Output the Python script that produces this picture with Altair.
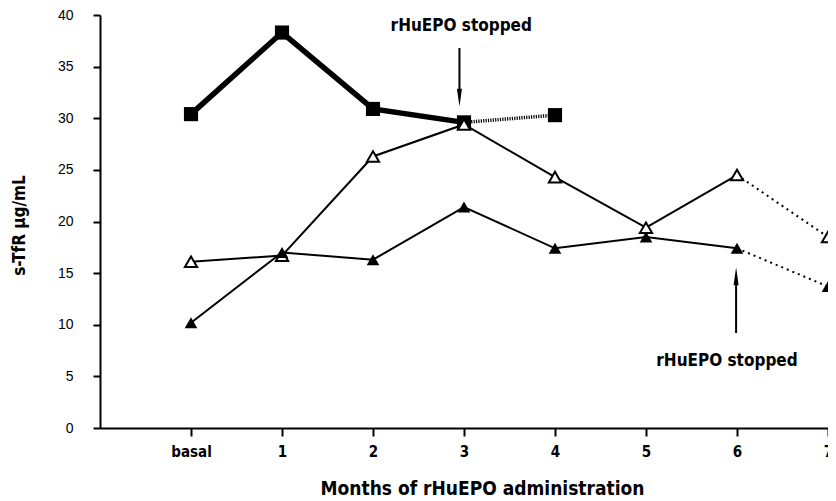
import altair as alt
import pandas as pd

# ---------------- data ----------------
tick_values = [0, 1, 2, 3, 4, 5, 6, 7]
tick_labels = ["basal", "1", "2", "3", "4", "5", "6", "7"]

sq_x = [0, 1, 2, 3, 4]
sq_y = [30.4, 38.3, 30.9, 29.6, 30.3]          # filled squares (thick line)
sq_last_solid = 3

tri_x = [0, 1, 2, 3, 4, 5, 6, 7]
open_y = [16.1, 16.7, 26.3, 29.4, 24.3, 19.4, 24.5, 18.5]   # open triangles
fill_y = [10.2, 17.0, 16.3, 21.4, 17.4, 18.5, 17.4, 13.7]   # filled triangles
tri_last_solid = 6

ann_x = [2.97, 5.89]
ann_y = [38.9, 6.5]
ann_text = ["rHuEPO stopped", "rHuEPO stopped"]

arrow_x = [2.95, 5.99]
arrow_from = [36.8, 9.2]
arrow_to = [32.0, 14.7]

COND = "'DejaVu Sans Condensed', 'Liberation Sans Narrow', sans-serif"

# ---------------- tables ----------------
def seg(xs, ys, a, b):
    return pd.DataFrame({"x": xs[a:b + 1], "y": ys[a:b + 1]})

sq_solid = seg(sq_x, sq_y, 0, sq_last_solid)
sq_dot = seg(sq_x, sq_y, sq_last_solid, len(sq_x) - 1)
op_solid = seg(tri_x, open_y, 0, tri_last_solid)
op_dot = seg(tri_x, open_y, tri_last_solid, len(tri_x) - 1)
fi_solid = seg(tri_x, fill_y, 0, tri_last_solid)
fi_dot = seg(tri_x, fill_y, tri_last_solid, len(tri_x) - 1)
sq_pts = pd.DataFrame({"x": sq_x, "y": sq_y})
op_pts = pd.DataFrame({"x": tri_x, "y": open_y})
fi_pts = pd.DataFrame({"x": tri_x, "y": fill_y})
ann = pd.DataFrame({"x": ann_x, "y": ann_y, "t": ann_text})
arr = pd.DataFrame({"x": arrow_x, "y": arrow_from, "y2": arrow_to,
                    "shape": ["M-0.28,-1L0.28,-1L0,1Z", "M-0.28,1L0.28,1L0,-1Z"]})

label_expr = "[" + ",".join("'%s'" % s for s in tick_labels) + "][datum.value]"

axis_style = dict(domainColor="black", domainWidth=2, tickColor="black", tickWidth=2,
                  domainOpacity=1, tickOpacity=1, grid=False)

xenc = alt.X("x:Q", scale=alt.Scale(domain=[-1, 7], nice=False, zero=False),
             axis=alt.Axis(values=tick_values, labelExpr=label_expr,
                           title="Months of rHuEPO administration",
                           labelFont=COND, labelFontWeight="bold", labelFontSize=15,
                           labelPadding=8, labelColor="black",
                           titleFont=COND, titleFontWeight="bold", titleFontSize=19,
                           titleX=382, titleY=66, titleBaseline="alphabetic",
                           titleColor="black", tickSize=8,
                           labelFlush=False, **axis_style))
yenc = alt.Y("y:Q", scale=alt.Scale(domain=[0, 40], nice=False),
             axis=alt.Axis(values=list(range(0, 41, 5)), title="s-TfR µg/mL",
                           labelFont="Liberation Sans", labelFontSize=14,
                           labelColor="black", labelPadding=20,
                           titleFont=COND, titleFontWeight="bold", titleFontSize=17,
                           titleColor="black", titleX=-72, titleY=210,
                           titleAnchor="middle", tickSize=7, **axis_style))

def line(df, width, dash=None):
    kw = dict(color="black", strokeWidth=width, clip=False)
    if dash:
        kw["strokeDash"] = dash
    return alt.Chart(df).mark_line(**kw).encode(x=xenc, y=yenc)

layers = [
    line(sq_solid, 5.5),
    line(sq_dot, 3.5, [1.2, 1.2]),
    line(op_solid, 2),
    line(op_dot, 2, [2, 4]),
    line(fi_solid, 2),
    line(fi_dot, 2, [2, 4]),
    alt.Chart(sq_pts).mark_point(shape="square", filled=True, color="black",
                                 size=200, opacity=1, clip=False).encode(x=xenc, y=yenc),
    alt.Chart(op_pts).mark_point(shape="triangle-up", filled=True, fill="white",
                                 stroke="black", strokeWidth=2, size=150, opacity=1,
                                 clip=False).encode(x=xenc, y=yenc),
    alt.Chart(fi_pts).mark_point(shape="triangle-up", filled=True, color="black",
                                 size=160, opacity=1, clip=False).encode(x=xenc, y=yenc),
    alt.Chart(arr).mark_rule(color="black", strokeWidth=2).encode(x=xenc, y=yenc, y2="y2:Q"),
    alt.Chart(arr).mark_point(filled=True, color="black", size=320, opacity=1).encode(
        x=xenc, y=alt.Y("y2:Q", scale=alt.Scale(domain=[0, 40], nice=False)),
        shape=alt.Shape("shape:N", scale=None, legend=None)),
    alt.Chart(ann).mark_text(font=COND, fontWeight="bold", fontSize=17, color="black",
                             baseline="middle", align="center").encode(
        x=xenc, y=yenc, text="t:N"),
]

chart = alt.layer(*layers).properties(
    width=728, height=413,
    background="white",
    autosize=alt.AutoSizeParams(type="none"),
    padding={"left": 92, "top": 7, "right": 0, "bottom": 72},
).configure_view(stroke=None)

chart.save("out.html", embed_options={"renderer": "svg", "actions": False})
